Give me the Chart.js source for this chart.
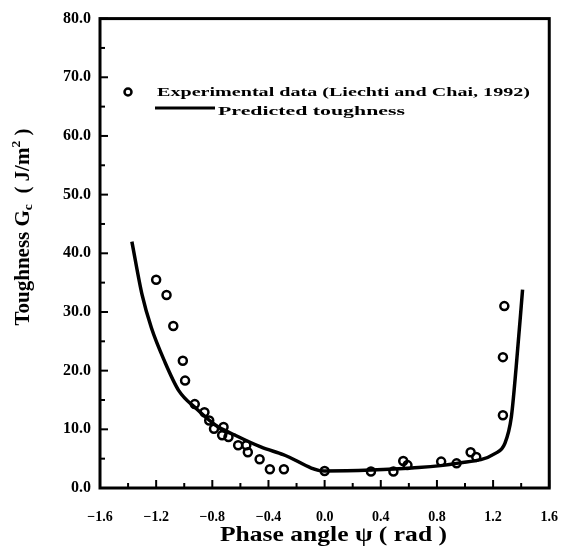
<!DOCTYPE html>
<html>
<head>
<meta charset="utf-8">
<script src="https://cdn.jsdelivr.net/npm/chart.js@4/dist/chart.umd.min.js"></script>
<style>
  html, body { margin: 0; padding: 0; background: #fff; }
  #wrap { width: 579px; height: 554px; }
</style>
</head>
<body>
<div id="wrap"><canvas id="chart" width="579" height="554"></canvas></div>
<script>
// experimental data (open circles)
var expPhase = [-1.2, -1.126, -1.078, -1.01, -0.994, -0.925, -0.856, -0.822, -0.788, -0.72, -0.73, -0.685,
  -0.616, -0.558, -0.547, -0.463, -0.39, -0.29, 0.0, 0.33, 0.49, 0.56, 0.59, 0.83, 0.94, 1.04, 1.08,
  1.27, 1.27, 1.28];
var expTough = [35.5, 32.9, 27.6, 21.7, 18.3, 14.3, 12.9, 11.5, 10.1, 10.4, 9.0, 8.7,
  7.3, 7.3, 6.1, 4.9, 3.2, 3.2, 2.9, 2.8, 2.8, 4.6, 3.9, 4.5, 4.2, 6.1, 5.3,
  12.4, 22.3, 31.0];
// predicted curve
var predPhase = [-1.373, -1.30, -1.234, -1.142, -1.039, -0.913, -0.776, -0.638, -0.455, -0.295, 0.0,
  0.33, 0.62, 0.94, 1.216, 1.284, 1.33, 1.364, 1.41];
var predTough = [42.0, 32.9, 27.3, 21.7, 16.6, 13.5, 10.7, 9.0, 7.0, 5.7, 2.9,
  3.05, 3.4, 4.2, 5.9, 7.6, 12.1, 20.5, 33.8];
// tick labels
var xTicks = [-1.6, -1.2, -0.8, -0.4, 0.0, 0.4, 0.8, 1.2, 1.6];
var yTicks = [0, 10, 20, 30, 40, 50, 60, 70, 80];

var serif = "'Liberation Serif', 'DejaVu Serif', serif";

function pts(xs, ys) {
  return xs.map(function (x, i) { return { x: x, y: ys[i] }; });
}

function fitText(ctx, txt, x, y, w) {
  var m = ctx.measureText(txt).width;
  ctx.save();
  ctx.translate(x, y);
  ctx.scale(w / m, 1);
  ctx.fillText(txt, 0, 0);
  ctx.restore();
}

// frame, inward ticks, legend and axis titles
var decor = {
  id: "decor",
  afterDraw: function (chart) {
    var ctx = chart.ctx;
    var a = chart.chartArea;
    var sx = chart.scales.x, sy = chart.scales.y;
    ctx.save();
    ctx.strokeStyle = "#000";
    ctx.lineWidth = 3;
    ctx.strokeRect(a.left, a.top, a.right - a.left, a.bottom - a.top);

    ctx.lineWidth = 2;
    var v, p, len;
    for (v = 0; v <= 80; v += 5) {
      p = sy.getPixelForValue(v);
      len = v % 10 === 0 ? 8 : 5;
      ctx.beginPath(); ctx.moveTo(a.left, p); ctx.lineTo(a.left + len, p); ctx.stroke();
    }
    for (var i = -8; i <= 8; i++) {
      p = sx.getPixelForValue(i * 0.2);
      len = i % 2 === 0 ? 8 : 5;
      ctx.beginPath(); ctx.moveTo(p, a.bottom); ctx.lineTo(p, a.bottom - len); ctx.stroke();
    }

    // legend
    ctx.fillStyle = "#000";
    ctx.lineWidth = 2.5;
    ctx.beginPath(); ctx.arc(128, 92, 3.5, 0, Math.PI * 2); ctx.stroke();
    ctx.lineWidth = 3;
    ctx.beginPath(); ctx.moveTo(155, 108); ctx.lineTo(215, 108); ctx.stroke();
    ctx.font = "bold 13px " + serif;
    ctx.textBaseline = "middle";
    ctx.textAlign = "left";
    fitText(ctx, "Experimental data (Liechti and Chai, 1992)", 157, 93, 373);
    fitText(ctx, "Predicted toughness", 218, 112, 187);

    // x title
    ctx.font = "bold 21px " + serif;
    fitText(ctx, "Phase angle \u03c8 ( rad )", 220, 536, 227);

    // y title (rotated, with subscript / superscript)
    ctx.translate(24, 227);
    ctx.rotate(-Math.PI / 2);
    var big = "bold 20px " + serif, small = "bold 13px " + serif;
    var parts = [["Toughness G", big, 0], ["c", small, 5], ["  ( J/m", big, 0], ["2", small, -7], [" )", big, 0]];
    var total = 0;
    parts.forEach(function (q) { ctx.font = q[1]; total += ctx.measureText(q[0]).width; });
    var k = 197 / total;
    ctx.scale(k, 1);
    var x = -total / 2;
    parts.forEach(function (q) {
      ctx.font = q[1];
      ctx.fillText(q[0], x, q[2]);
      x += ctx.measureText(q[0]).width;
    });
    ctx.restore();
  }
};

new Chart(document.getElementById("chart"), {
  type: "scatter",
  data: {
    datasets: [
      {
        label: "Predicted toughness",
        type: "line",
        data: pts(predPhase, predTough),
        borderColor: "#000",
        borderWidth: 3.5,
        pointRadius: 0,
        cubicInterpolationMode: "monotone",
        fill: false
      },
      {
        label: "Experimental data (Liechti and Chai, 1992)",
        data: pts(expPhase, expTough),
        pointRadius: 4,
        pointBorderWidth: 2.5,
        pointBorderColor: "#000",
        pointBackgroundColor: "rgba(255,255,255,0)"
      }
    ]
  },
  options: {
    responsive: false,
    animation: false,
    layout: { padding: { top: 15, right: 13, left: 0, bottom: 0 } },
    plugins: { legend: { display: false }, tooltip: { enabled: false } },
    scales: {
      x: {
        type: "linear",
        min: -1.6,
        max: 1.6,
        afterBuildTicks: function (s) { s.ticks = xTicks.map(function (v) { return { value: v }; }); },
        afterFit: function (s) { s.height = 66; },
        grid: { display: false, drawTicks: false },
        border: { display: false },
        ticks: {
          color: "#000",
          padding: 21,
          font: { family: serif, size: 14, weight: "bold" },
          callback: function (v) { return Number(v).toFixed(1).replace("-", "\u2212"); }
        }
      },
      y: {
        min: 0,
        max: 80,
        afterBuildTicks: function (s) { s.ticks = yTicks.map(function (v) { return { value: v }; }); },
        afterFit: function (s) { s.width = 100; },
        grid: { display: false, drawTicks: false },
        border: { display: false },
        ticks: {
          color: "#000",
          padding: 9,
          font: { family: serif, size: 16, weight: "bold" },
          callback: function (v) { return Number(v).toFixed(1); }
        }
      }
    }
  },
  plugins: [decor]
});
</script>
</body>
</html>
